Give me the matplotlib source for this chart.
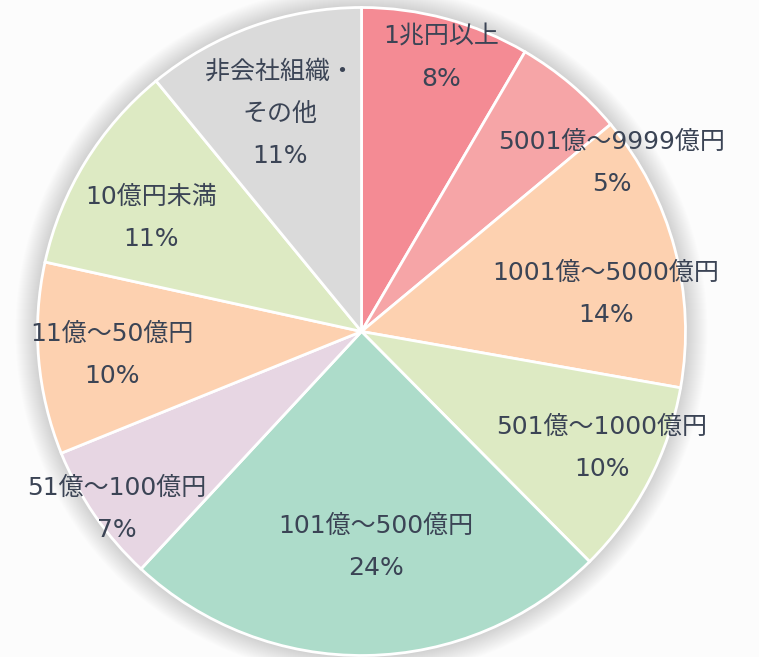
import numpy as np
import matplotlib.pyplot as plt

plt.rcParams['font.family'] = ['DejaVu Sans', 'Noto Sans CJK JP']

# data, clockwise from 12 o'clock
labels = ['1兆円以上', '5001億～9999億円', '1001億～5000億円', '501億～1000億円',
          '101億～500億円', '51億～100億円', '11億～50億円', '10億円未満', '非会社組織・\nその他']
# slice sizes as measured from the wedge angles
shares = [8.42, 5.54, 13.82, 9.79, 24.34, 6.96, 9.57, 10.63, 10.93]
# percentages as printed on the chart
pct_labels = ['8%', '5%', '14%', '10%', '24%', '7%', '10%', '11%', '11%']
colors = ['#F48B94', '#F6A5A7', '#FDD1B0', '#DDEAC3', '#ADDCCA',
          '#E7D6E3', '#FDD1B0', '#DDEAC3', '#DADADA']

# label anchor points in pixel space (text layout only)
label_pos = [(441, 58), (612, 163), (606, 294), (602, 448), (376, 547),
             (117, 509), (112, 355), (151, 218), (280, 114)]

W, H = 759, 657
cx, cy, R = 361.5, 331.5, 324
txt_color = '#3B4455'

fig = plt.figure(figsize=(W / 100, H / 100), dpi=100)
fig.patch.set_facecolor('#FCFCFC')
ax = fig.add_axes([0, 0, 1, 1])

# soft shadow around the pie
for k in range(22, 0, -1):
    ax.add_patch(plt.Circle((cx, cy), R + k, color='black', alpha=0.008, lw=0, zorder=0))

# y axis gets inverted, so start at -90 and counterclock in data = clockwise on screen
ax.pie(shares, colors=colors, center=(cx, cy), radius=R, startangle=-90, counterclock=True,
       wedgeprops=dict(edgecolor='white', linewidth=2), frame=True)
ax.set_xlim(0, W)
ax.set_ylim(H, 0)
ax.set_aspect('equal')
ax.axis('off')

for lab, p, (x, y) in zip(labels, pct_labels, label_pos):
    ax.text(x, y, f'{lab}\n{p}', ha='center', va='center', fontsize=18,
            color=txt_color, linespacing=1.95)

fig.savefig('out.png', dpi=100, facecolor=fig.get_facecolor())
